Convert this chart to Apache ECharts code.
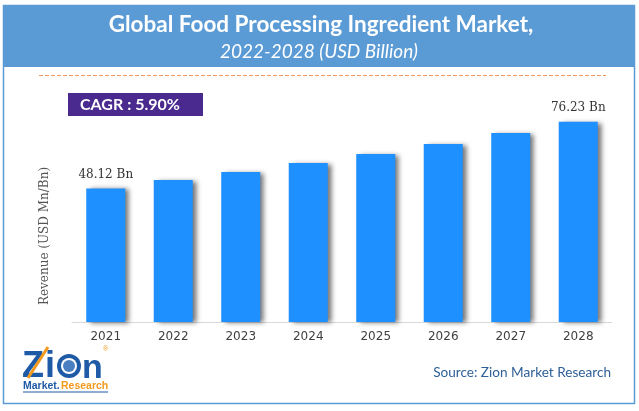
<!DOCTYPE html>
<html><head><meta charset="utf-8">
<script src="https://cdn.jsdelivr.net/npm/echarts@6/dist/echarts.min.js"></script>
<style>html,body{margin:0;padding:0;background:#fff}#c{width:639px;height:411px}</style>
</head><body><div id="c"></div>
<script>
const categories = ['2021','2022','2023','2024','2025','2026','2027','2028'];
const revenue = [48.12, 51.66, 55.03, 58.82, 62.62, 66.83, 71.47, 76.23];
const labelledYears = ['2021','2028'];
const titleMain = 'Global Food Processing Ingredient Market,';
const titleSub = '2022-2028 (USD Billion)';
const cagrText = 'CAGR : 5.90%';
const yAxisName = 'Revenue (USD Mn/Bn)';
const sourceText = 'Source: Zion Market Research';
const yMin = -8.18, yMax = 90;

const chart = echarts.init(document.getElementById('c'), null, {renderer:'canvas'});
chart.setOption({
  animation:false,
  backgroundColor:'#fff',
  grid:{left:72, right:27, top:89, bottom:89, containLabel:false},
  xAxis:{type:'category', data:categories,
    axisLine:{onZero:false, lineStyle:{color:'#d9d9d9', width:1}},
    axisTick:{show:false},
    axisLabel:{color:'#404040', fontFamily:'DejaVu Sans', fontSize:12, margin:9}},
  yAxis:{type:'value', min:yMin, max:yMax, startValue:yMin, show:false},
  series:[{type:'bar', data:revenue, barWidth:'57.8%',
    itemStyle:{color:'#1e90ff', shadowColor:'rgba(0,0,0,0.55)', shadowBlur:5, shadowOffsetX:4, shadowOffsetY:1},
    label:{show:true, position:'top', distance:8, color:'#333', fontFamily:'DejaVu Serif', fontSize:12,
      formatter:p => labelledYears.includes(p.name) ? p.value.toFixed(2)+' Bn' : ''}}],
  graphic:[
    {type:'rect', z:-1, shape:{x:3.5,y:5.5,width:631,height:398}, style:{fill:'#fff', stroke:'#5b9bd5', lineWidth:1.5}},
    {type:'rect', shape:{x:3,y:5,width:632,height:62}, style:{fill:'#5b9bd5'}},
    {type:'text', style:{text:titleMain, x:321, y:25, fill:'#fff', font:'bold 22.5px Lato', textAlign:'center', textVerticalAlign:'middle'}},
    {type:'text', style:{text:titleSub, x:319, y:52, fill:'#fff', font:'italic 19px Lato', textAlign:'center', textVerticalAlign:'middle'}},
    {type:'line', shape:{x1:39,y1:75.5,x2:606,y2:75.5}, style:{stroke:'#f2965c', lineWidth:1, lineDash:[4,2]}},
    {type:'rect', shape:{x:68,y:93,width:135,height:23}, style:{fill:'#4b2a8f'}},
    {type:'text', style:{text:cagrText, x:80, y:104.5, fill:'#fff', font:'bold 16px Lato', textAlign:'left', textVerticalAlign:'middle'}},
    {type:'text', rotation:Math.PI/2, x:45, y:236, style:{text:yAxisName, x:0, y:0, fill:'#555', font:'12px DejaVu Serif', textAlign:'center', textVerticalAlign:'middle'}},
    {type:'text', style:{text:sourceText, x:611, y:373, fill:'#2f5f96', font:'13.6px Lato', textAlign:'right', textVerticalAlign:'middle'}},
    {type:'text', style:{text:'Z', x:22, y:367, fill:'#1f5aa6', font:'bold 36px Arial', textAlign:'left', textVerticalAlign:'middle'}},
    {type:'text', style:{text:'i', x:45, y:367, fill:'#1f5aa6', font:'bold 36px Arial', textAlign:'left', textVerticalAlign:'middle'}},
    {type:'line', shape:{x1:28,y1:378,x2:48,y2:347}, style:{stroke:'#f39a1e', lineWidth:3}},
    {type:'circle', shape:{cx:69,cy:366,r:12}, style:{fill:'#1f5aa6'}},
    {type:'circle', shape:{cx:69,cy:366,r:8}, style:{fill:'#fff'}},
    {type:'circle', shape:{cx:69,cy:366,r:6}, style:{fill:'#4a7fc1'}},
    {type:'text', style:{text:'n', x:82, y:369, fill:'#1f5aa6', font:'bold 34px Arial', textAlign:'left', textVerticalAlign:'middle'}},
    {type:'text', style:{text:'®', x:103, y:349, fill:'#f39a1e', font:'7px Arial', textAlign:'left', textVerticalAlign:'middle'}},
    {type:'text', style:{text:'Market.', x:23, y:386, fill:'#1f5aa6', font:'bold 10.5px Arial', textAlign:'left', textVerticalAlign:'middle'}},
    {type:'text', style:{text:'Research', x:61, y:386, fill:'#f39a1e', font:'bold 10.5px Arial', textAlign:'left', textVerticalAlign:'middle'}},
    {type:'line', shape:{x1:23,y1:392,x2:108,y2:392}, style:{stroke:'#1f5aa6', lineWidth:1}}
  ]
});
</script></body></html>
